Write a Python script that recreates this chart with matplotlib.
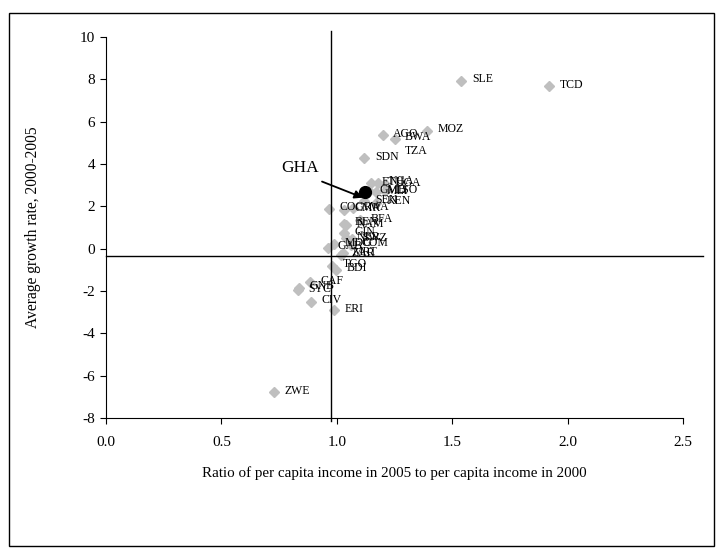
import matplotlib
matplotlib.use("Agg")
import matplotlib.pyplot as plt
from matplotlib.patches import Rectangle

plt.rcParams['font.family'] = ['Liberation Serif', 'DejaVu Serif']
plt.rcParams['axes.unicode_minus'] = False

# ---- data ----
countries = ["SLE", "TCD", "MOZ", "AGO", "BWA", "SDN", "TZA",
             "ETH", "NGA", "UGA", "GMB", "MLI", "LSO", "SEN", "KEN",
             "COG", "CMR", "RWA", "BFA", "BEN", "NAM", "GIN", "NER", "SWZ",
             "GAB", "MDG", "COM", "ZAR", "MRT", "TGO", "BDI", "CAF", "GNB",
             "SYC", "CIV", "ERI", "ZWE"]
ratio = [1.54, 1.92, 1.39, 1.20, 1.25, 1.12, 1.25,
         1.15, 1.18, 1.21, 1.14, 1.17, 1.21, 1.12, 1.17,
         0.966, 1.03, 1.07, 1.10, 1.03, 1.04, 1.03, 1.04, 1.065,
         0.96, 0.99, 1.06, 1.02, 1.025, 0.98, 0.997, 0.885, 0.835,
         0.83, 0.89, 0.99, 0.73]
growth = [7.94, 7.67, 5.58, 5.36, 5.20, 4.26, 4.54,
          3.08, 3.12, 3.05, 2.72, 2.68, 2.72, 2.25, 2.18,
          1.88, 1.85, 1.90, 1.35, 1.18, 1.12, 0.72, 0.50, 0.45,
          0.05, 0.22, 0.18, -0.28, -0.22, -0.80, -1.00, -1.58, -1.85,
          -1.95, -2.50, -2.90, -6.78]
no_marker = ["TZA"]

gha_label = "GHA"
gha_ratio = 1.122
gha_growth = 2.68

ref_ratio = 0.975      # vertical reference line
ref_growth = -0.36     # horizontal reference line

xticks = [0.0, 0.5, 1.0, 1.5, 2.0, 2.5]
yticks = [-8, -6, -4, -2, 0, 2, 4, 6, 8, 10]

# ---- figure ----
W, H = 721, 552
fig = plt.figure(figsize=(W / 100, H / 100), dpi=100)
ax = fig.add_axes([106 / W, 1 - 418 / H, (683 - 106) / W, (418 - 37) / H])

mx = [x for c, x in zip(countries, ratio) if c not in no_marker]
my = [y for c, y in zip(countries, growth) if c not in no_marker]
ax.plot(mx, my, linestyle='none', marker='D', markersize=5.5,
        color='#bfbfbf', markeredgecolor='#bfbfbf', zorder=2)

for c, x, y in zip(countries, ratio, growth):
    ax.annotate(c, (x, y), xytext=(7.5, 1), textcoords='offset points',
                ha='left', va='center', fontsize=8.5, color='black', zorder=4)

ax.plot([gha_ratio], [gha_growth], linestyle='none', marker='o', markersize=8.5,
        color='black', zorder=5)
ax.annotate('', xy=(1.113, 2.41), xytext=(0.936, 3.17),
            arrowprops=dict(arrowstyle='-|>', color='black', lw=1.3,
                            mutation_scale=12, shrinkA=0, shrinkB=0), zorder=6)
ax.text(0.84, 3.83, gha_label, fontsize=12.5, ha='center', va='center', zorder=6)

# reference lines
ax.plot([0, 2.587], [ref_growth, ref_growth], color='black', lw=1.0, clip_on=False, zorder=3)
ax.plot([ref_ratio, ref_ratio], [-8.13, 10.3], color='black', lw=1.0, clip_on=False, zorder=3)

ax.set_xlim(0, 2.5)
ax.set_ylim(-8, 10)
ax.set_xticks(xticks)
ax.set_xticklabels([f"{t:.1f}" for t in xticks])
ax.set_yticks(yticks)
ax.set_yticklabels([str(t) for t in yticks])
ax.tick_params(direction='out', length=4, width=0.8, labelsize=11, pad=4)
ax.tick_params(axis='x', pad=9)
for s in ['top', 'right']:
    ax.spines[s].set_visible(False)
for s in ['left', 'bottom']:
    ax.spines[s].set_linewidth(0.8)

ax.set_xlabel("Ratio of per capita income in 2005 to per capita income in 2000",
              fontsize=10.8, labelpad=12)
ax.set_ylabel("Average growth rate, 2000-2005", fontsize=11.2, labelpad=28)

fig.add_artist(Rectangle((9 / W, 1 - 546 / H), (714 - 9) / W, (546 - 13) / H,
                         transform=fig.transFigure, fill=False,
                         edgecolor='black', linewidth=1.0))

fig.savefig("out.png", dpi=100)
